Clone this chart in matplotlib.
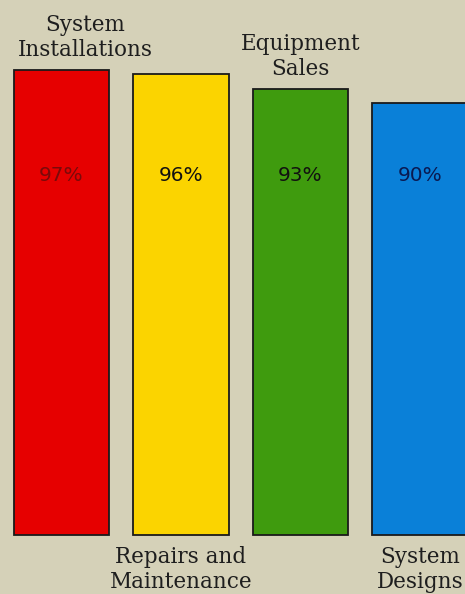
import matplotlib.pyplot as plt

# dane
kategorie = ["System\nInstallations", "Repairs and\nMaintenance", "Equipment\nSales", "System\nDesigns"]
wartosci = [97, 96, 93, 90]
etykiety = ["97%", "96%", "93%", "90%"]
kolory = ["#e60000", "#fbd400", "#3f9b0e", "#0a80d8"]
kolory_tekstu = ["#7a0a0a", "#111111", "#111111", "#0a1a50"]
nad = [True, False, True, False]  # etykieta nad czy pod slupkiem

tlo = "#d5d1b8"

fig = plt.figure(figsize=(4.65, 5.94), dpi=100, facecolor=tlo)
ax = fig.add_axes([0, 0, 1, 1])
ax.set_facecolor(tlo)

x = range(len(wartosci))
ax.bar(x, wartosci, width=0.8, color=kolory, edgecolor="#1a1a1a", linewidth=1.3)

ax.set_xlim(-0.515, 3.377)
ax.set_ylim(-12.3, 111.5)
ax.axis("off")

for i, v in enumerate(wartosci):
    ax.text(i, 75, etykiety[i], ha="center", va="center", fontsize=14.5,
            color=kolory_tekstu[i], family="DejaVu Sans")
    dx = 0.2 if i == 0 else 0
    if nad[i]:
        ax.annotate(kategorie[i], (i + dx, v), xytext=(0, 9), textcoords="offset pixels",
                    ha="center", va="bottom", fontsize=15.5, family="DejaVu Serif",
                    color="#1e1e1e", linespacing=1.15)
    else:
        ax.annotate(kategorie[i], (i + dx, 0), xytext=(0, -11), textcoords="offset pixels",
                    ha="center", va="top", fontsize=15.5, family="DejaVu Serif",
                    color="#1e1e1e", linespacing=1.15)

fig.savefig("out.png", dpi=100, facecolor=tlo)
